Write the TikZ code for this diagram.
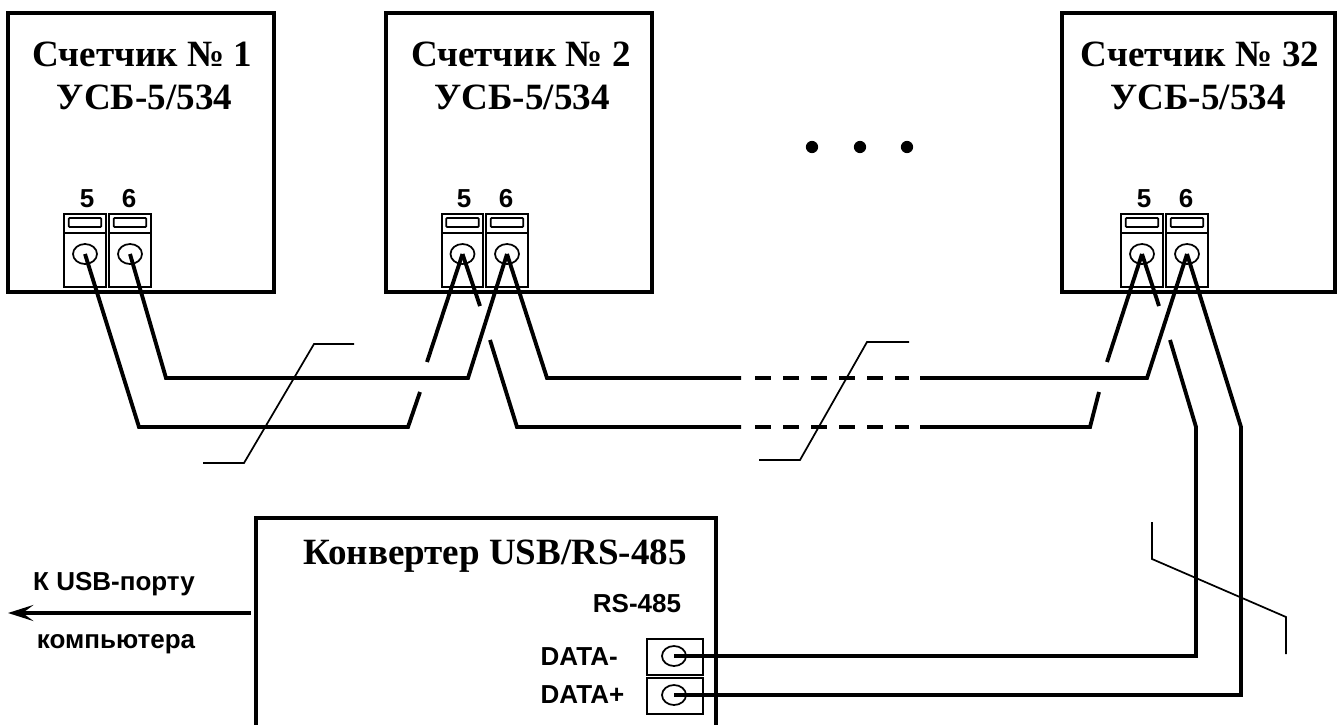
\documentclass[tikz,border=0pt]{standalone}
\usepackage{fontspec}
\setmainfont{Liberation Serif}
\setsansfont{Liberation Sans}
\usetikzlibrary{arrows.meta, shapes.geometric}

\begin{document}
\begin{tikzpicture}[
        x=0.75pt, y=-0.75pt,
        meter/.style={draw, line width=3.1pt, minimum width=199.5pt, minimum height=209pt, inner sep=0pt},
        title/.style={anchor=base, font=\fontsize{27.8}{28}\bfseries},
        small/.style={anchor=base, font=\fontsize{19.5}{19.5}\sffamily\bfseries},
        termcap/.style={draw, line width=1.3pt, minimum width=31pt, minimum height=14.2pt, inner sep=0pt},
        termbody/.style={draw, line width=1.3pt, minimum width=31pt, minimum height=40.5pt, inner sep=0pt},
        slot/.style={draw, line width=1.3pt, rounded corners=0.8pt, minimum width=24.5pt, minimum height=6.8pt, inner sep=0pt},
        hole/.style={draw, ellipse, line width=1.3pt, minimum width=18pt, minimum height=15pt, inner sep=0pt},
        port/.style={draw, line width=1.1pt, minimum width=42pt, minimum height=27pt, inner sep=0pt},
        wire/.style={line width=2.9pt, miter limit=10},
        leader/.style={line width=1.3pt}]

        \useasboundingbox (0,0) rectangle (1341,724);

        \node[meter] (M1) at (141,152.5) {};
        \node[meter] (M2) at (519,152.5) {};
        \node[meter, minimum width=205pt] (M3) at (1198.5,152.5) {};

        \node[title] (T1) at (142.5,66) {Счетчик № 1};
        \node[title] (U1) at (144.5,109) {УСБ-5/534};
        \node[title] (T2) at (521,66) {Счетчик № 2};
        \node[title] (U2) at (522,109) {УСБ-5/534};
        \node[title] (T3) at (1200,66) {Счетчик № 32};
        \node[title] (U3) at (1198,109) {УСБ-5/534};

        \node[small] (N15) at (87,207) {5};
        \node[small] (N16) at (129,207) {6};
        \node[small] (N25) at (464,207) {5};
        \node[small] (N26) at (506,207) {6};
        \node[small] (N35) at (1144,207) {5};
        \node[small] (N36) at (1186,207) {6};

        \node[termcap] (C15) at (85,223.5) {};
        \node[termbody] (B15) at (85,260) {};
        \node[slot] (S15) at (85,222.5) {};
        \node[hole] (H15) at (85,254) {};
        \node[termcap] (C16) at (130,223.5) {};
        \node[termbody] (B16) at (130,260) {};
        \node[slot] (S16) at (130,222.5) {};
        \node[hole] (H16) at (130,254) {};

        \node[termcap] (C25) at (462.5,223.5) {};
        \node[termbody] (B25) at (462.5,260) {};
        \node[slot] (S25) at (462.5,222.5) {};
        \node[hole] (H25) at (462.5,254) {};
        \node[termcap] (C26) at (507,223.5) {};
        \node[termbody] (B26) at (507,260) {};
        \node[slot] (S26) at (507,222.5) {};
        \node[hole] (H26) at (507,254) {};

        \node[termcap] (C35) at (1142,223.5) {};
        \node[termbody] (B35) at (1142,260) {};
        \node[slot] (S35) at (1142,222.5) {};
        \node[hole] (H35) at (1142,254) {};
        \node[termcap] (C36) at (1187,223.5) {};
        \node[termbody] (B36) at (1187,260) {};
        \node[slot] (S36) at (1187,222.5) {};
        \node[hole] (H36) at (1187,254) {};

        \fill (812,147) circle (4.6pt);
        \fill (860,147) circle (4.6pt);
        \fill (907,147) circle (4.6pt);

        \coordinate (a1) at (139,427);
        \coordinate (a2) at (408,427);
        \coordinate (a3) at (420,392);
        \coordinate (a4) at (427,362);
        \coordinate (b1) at (166,378);
        \coordinate (b2) at (468,378);
        \coordinate (c1) at (480,306);
        \coordinate (c2) at (490,340);
        \coordinate (c3) at (517,427);
        \coordinate (c4) at (741,427);
        \coordinate (c5) at (755,427);
        \coordinate (c6) at (909,427);
        \coordinate (c7) at (920,427);
        \coordinate (c8) at (1090,427);
        \coordinate (c9) at (1099,392);
        \coordinate (c10) at (1107,362);
        \coordinate (d1) at (547,378);
        \coordinate (d2) at (741,378);
        \coordinate (d3) at (755,378);
        \coordinate (d4) at (909,378);
        \coordinate (d5) at (920,378);
        \coordinate (d6) at (1147,378);
        \coordinate (e1) at (1159,306);
        \coordinate (e2) at (1170,340);
        \coordinate (e3) at (1196,427);
        \coordinate (e4) at (1196,656);
        \coordinate (f1) at (1241,427);
        \coordinate (f2) at (1241,695);

        \draw[wire] (H15.center) -- (a1) -- (a2) -- (a3);
        \draw[wire] (a4) -- (H25.center);
        \draw[wire] (H16.center) -- (b1) -- (b2) -- (H26.center);
        \draw[wire] (H25.center) -- (c1);
        \draw[wire] (c2) -- (c3) -- (c4);
        \draw[wire, dash pattern=on 12.3pt off 8.7pt] (c5) -- (c6);
        \draw[wire] (c7) -- (c8) -- (c9);
        \draw[wire] (c10) -- (H35.center);
        \draw[wire] (H26.center) -- (d1) -- (d2);
        \draw[wire, dash pattern=on 12.3pt off 8.7pt] (d3) -- (d4);
        \draw[wire] (d5) -- (d6) -- (H36.center);
        \draw[wire] (H35.center) -- (e1);

        \node[draw, line width=3.1pt, minimum width=345pt, minimum height=165pt, inner sep=0pt] (K) at (486,628) {};
        \node[title] (KT) at (495,564) {Конвертер USB/RS-485};
        \node[small] (KR) at (637,612) {RS-485};
        \node[small, anchor=base west] (KM) at (536,665) {DATA-};
        \node[small, anchor=base west] (KP) at (536,703) {DATA+};
        \node[port] (P1) at (675,657) {};
        \node[port] (P2) at (675,696) {};
        \node[hole] (H1) at (674,656) {};
        \node[hole] (H2) at (674,695) {};

        \draw[wire] (e2) -- (e3) -- (e4) -- (H1.center);
        \draw[wire] (H36.center) -- (f1) -- (f2) -- (H2.center);

        \coordinate (A) at (8,613);
        \draw[wire, shorten <=2.5pt, -{Stealth[length=19pt,width=12pt,inset=8pt]}] (K.west |- A) -- (A);
        \node[small] (AU) at (114,590) {К USB-порту};
        \node[small] (AL) at (116,648) {компьютера};

        \coordinate (g1) at (354,344);
        \coordinate (g2) at (314,344);
        \coordinate (g3) at (244,463);
        \coordinate (g4) at (203,463);
        \coordinate (h1) at (909,342);
        \coordinate (h2) at (867,342);
        \coordinate (h3) at (800,460);
        \coordinate (h4) at (759,460);
        \coordinate (i1) at (1152,522);
        \coordinate (i2) at (1152,559);
        \coordinate (i3) at (1286,617);
        \coordinate (i4) at (1286,654);
        \draw[leader] (g1) -- (g2) -- (g3) -- (g4);
        \draw[leader] (h1) -- (h2) -- (h3) -- (h4);
        \draw[leader] (i1) -- (i2) -- (i3) -- (i4);

    \end{tikzpicture}
\end{document}
